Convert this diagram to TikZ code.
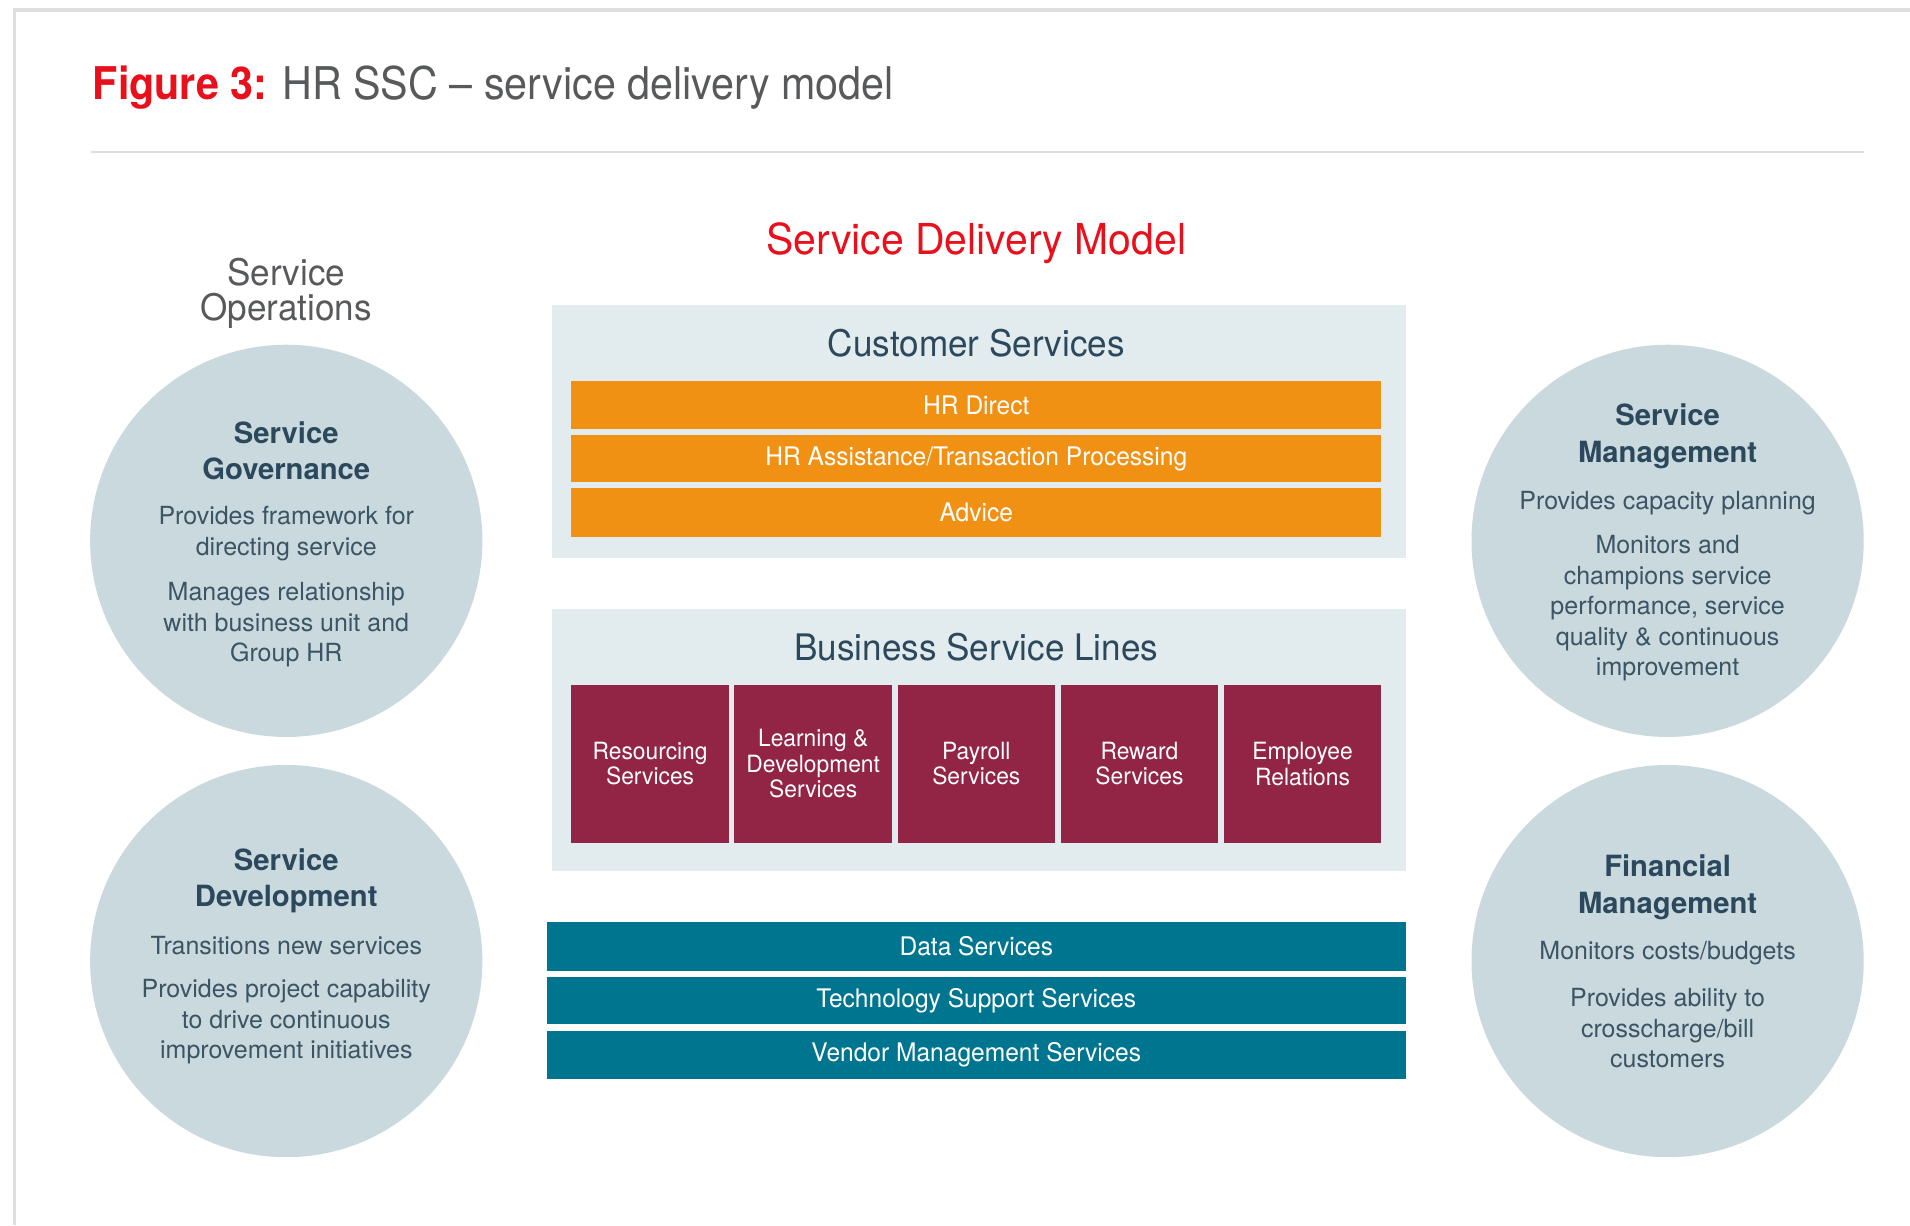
\documentclass[tikz,border=0pt]{standalone}
\usepackage{fontspec}
\setmainfont{TeX Gyre Heros}
\newfontfamily\narrowfont[FakeStretch=0.96]{TeX Gyre Heros}
\newfontfamily\headfont[FakeStretch=0.915]{TeX Gyre Heros}

\definecolor{brandred}{RGB}{232,16,26}
\definecolor{titlegrey}{RGB}{88,89,91}
\definecolor{framegrey}{RGB}{222,222,222}
\definecolor{bubblefill}{RGB}{201,217,222}
\definecolor{panelfill}{RGB}{226,235,237}
\definecolor{slate}{RGB}{44,72,92}
\definecolor{slatebody}{RGB}{60,84,100}
\definecolor{orangebar}{RGB}{240,145,20}
\definecolor{burgundy}{RGB}{146,37,69}
\definecolor{tealbar}{RGB}{0,117,143}

\begin{document}
\begin{tikzpicture}[x=1pt,y=-1pt,
  bubble/.style={circle, fill=bubblefill, draw=none, minimum size=322pt, inner sep=0pt},
  panel/.style={rectangle, fill=panelfill, draw=none, inner sep=0pt},
  orangebox/.style={rectangle, fill=orangebar, draw=none, inner sep=0pt,
    minimum width=665pt, text=white, font=\narrowfont\fontsize{21}{24}\selectfont},
  linebox/.style={rectangle, fill=burgundy, draw=none, inner sep=0pt,
    minimum width=129.4pt, minimum height=130pt, text=white, align=center,
    font=\narrowfont\fontsize{19.5}{21}\selectfont},
  tealbox/.style={rectangle, fill=tealbar, draw=none, inner sep=0pt,
    minimum width=705pt, text=white, font=\narrowfont\fontsize{21}{24}\selectfont},
  paneltitle/.style={text=slate, inner sep=0pt, font=\narrowfont\fontsize{30}{34}\selectfont},
  bubblehead/.style={text=slate, inner sep=0pt, align=center,
    font=\bfseries\fontsize{24}{30}\selectfont},
  bubbletext/.style={text=slatebody, inner sep=0pt, align=center,
    font=\fontsize{20.5}{25}\selectfont}
]
\useasboundingbox (0,0) rectangle (1568,1006);
\fill[white] (0,0) rectangle (1568,1006);

% page frame and header rule
\draw[framegrey, line width=3pt] (12,1006) -- (12,8) -- (1568,8);
\draw[framegrey, line width=2pt] (75,125) -- (1530,125);

% heading
\node[anchor=base west, inner sep=0pt, text=titlegrey,
  font=\headfont\fontsize{37}{40}\selectfont] (title) at (76,82)
  {\textcolor{brandred}{\bfseries Figure 3:} HR SSC – service delivery model};

\node[anchor=base, inner sep=0pt, text=brandred,
  font=\narrowfont\fontsize{35}{40}\selectfont] (sdm) at (801.5,209)
  {Service Delivery Model};

\node[inner sep=0pt, text=titlegrey, align=center,
  font=\narrowfont\fontsize{30}{29}\selectfont] (ops) at (235,241)
  {Service\\Operations};

% four capability bubbles
\node[bubble] (gov) at (235,444) {};
\node[bubble] (dev) at (235,789) {};
\node[bubble] (mgmt) at (1369,444) {};
\node[bubble] (fin) at (1369,789) {};

\node[bubblehead] (govhead) at (235,370) {Service\\Governance};
\node[bubbletext] (govtxt1) at (235,438) {Provides framework for\\directing service};
\node[bubbletext] (govtxt2) at (235,513) {Manages relationship\\with business unit and\\Group HR};

\node[bubblehead] (devhead) at (235,723) {Service\\Development};
\node[bubbletext] (devtxt1) at (235,776) {Transitions new services};
\node[bubbletext] (devtxt2) at (235,839) {Provides project capability\\to drive continuous\\improvement initiatives};

\node[bubblehead] (mgmthead) at (1369,358) {Service\\Management};
\node[bubbletext] (mgmttxt1) at (1369,413) {Provides capacity planning};
\node[bubbletext] (mgmttxt2) at (1369,499.5) {Monitors and\\champions service\\performance, service\\quality \& continuous\\improvement};

\node[bubblehead] (finhead) at (1369,728.5) {Financial\\Management};
\node[bubbletext] (fintxt1) at (1369,782.5) {Monitors costs/budgets};
\node[bubbletext] (fintxt2) at (1369,844) {Provides ability to\\crosscharge/bill\\customers};

% customer services panel
\node[panel, minimum width=701pt, minimum height=208pt] (cs) at (803.5,354) {};
\node[paneltitle] (cstitle) at (801.5,282) {Customer Services};
\node[orangebox, minimum height=39pt] (hrdirect) at (801.5,332.5) {HR Direct};
\node[orangebox, minimum height=39pt] (hrassist) at (801.5,376.5) {HR Assistance/Transaction Processing};
\node[orangebox, minimum height=40pt] (advice) at (801.5,421) {Advice};

% business service lines panel
\node[panel, minimum width=701pt, minimum height=215pt] (bsl) at (803.5,607.5) {};
\node[paneltitle] (bsltitle) at (801.5,531) {Business Service Lines};
\node[linebox] (resourcing) at (533.7,627) {Resourcing\\Services};
\node[linebox] (learning) at (667.6,627) {Learning \&\\Development\\Services};
\node[linebox] (payroll) at (801.5,627) {Payroll\\Services};
\node[linebox] (reward) at (935.4,627) {Reward\\Services};
\node[linebox] (employee) at (1069.3,627) {Employee\\Relations};

% shared support services
\node[tealbox, minimum height=40pt] (data) at (801.5,777) {Data Services};
\node[tealbox, minimum height=39pt] (tech) at (801.5,821.5) {Technology Support Services};
\node[tealbox, minimum height=40pt] (vendor) at (801.5,866) {Vendor Management Services};
\end{tikzpicture}
\end{document}
